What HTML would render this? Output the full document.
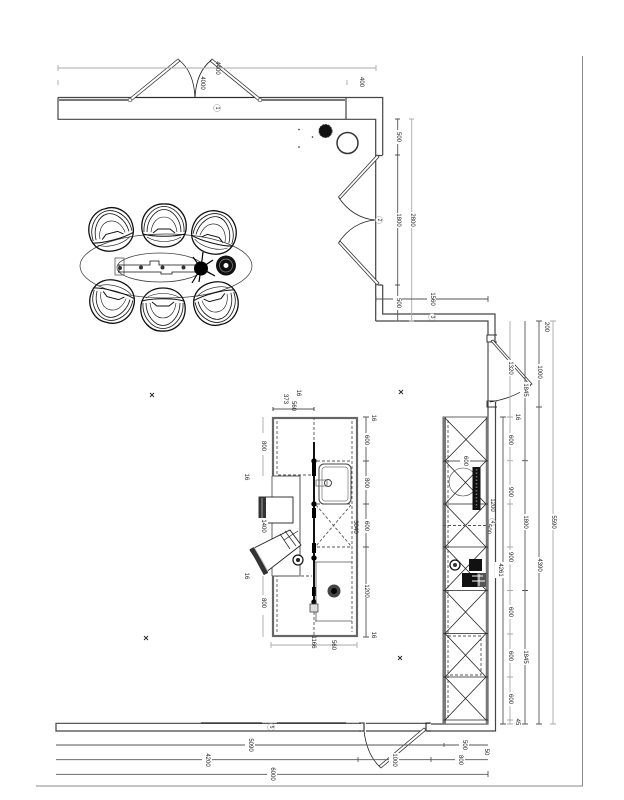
<!DOCTYPE html>
<html><head><meta charset="utf-8"><style>
html,body{margin:0;padding:0;background:#fff}
svg{display:block;filter:blur(.3px)}
text{font-family:"Liberation Sans",sans-serif;font-size:6px;fill:#222;text-anchor:middle;dominant-baseline:central}
.w{fill:none;stroke:#444;stroke-width:1.2}
.d{fill:none;stroke:#555;stroke-width:.9}
.l{fill:none;stroke:#aaa;stroke-width:.9}
.k{fill:none;stroke:#222;stroke-width:.8}
.g{fill:none;stroke:#777;stroke-width:3}
.da{fill:none;stroke:#555;stroke-width:.9;stroke-dasharray:3 2}
.lb{fill:#fff;stroke:#999;stroke-width:.5}
</style></head><body>
<svg width="624" height="800" viewBox="0 0 624 800" xmlns="http://www.w3.org/2000/svg">
<defs>
<g id="chair" fill="none" stroke="#111" stroke-width=".8">
<path stroke-width="1.300" d="M-22,4C-24,-14-10,-23 0,-22C12,-23 24,-12 22,4C20,16 10,21 0,21C-10,21-20,16-22,4Z"/>
<path d="M-20,6C-21,-9-10,-19.500 0,-19.500C10,-19.500 21,-9 20,6"/>
<path d="M-17,6C-17,-7-8,-16.500 0,-16.500C8,-16.500 17,-7 17,6"/>
<path d="M-13,6C-12,-3-7,-9 0,-9C7,-9 12,-3 13,6" stroke-width=".6"/>
<path d="M-21,8C-10,11 10,11 21,8" stroke-width="1"/>
<path d="M-11,7L-6,3L6,3L11,7" stroke-width="1"/>
<path d="M-17,11C-8,17 8,17 17,11" stroke-width=".6"/>
</g>
<g id="x" fill="none" stroke="#222" stroke-width=".9"><path d="M-2,-2L2,2M-2,2L2,-2"/></g>
</defs>

<!-- page border -->
<path d="M582.5,56V786H36" fill="none" stroke="#888" stroke-width="1"/>

<!-- top wall -->
<path class="w" d="M58,97.5H382.7V155M58,97.5V119.3H375.7V321M346,97.5V119.3"/>
<path fill="none" stroke="#777" stroke-width="2" d="M59,100H128M262,100H345"/>
<path class="k" d="M131,97.5H259"/>
<!-- door 1 -->
<path fill="#fff" stroke="#333" stroke-width=".8" d="M129,99L178,59L180,61L131,101ZM261,99L212,59L210,61L259,101Z"/>
<circle cx="130" cy="100" r="1.800" fill="#fff" stroke="#444" stroke-width=".7"/>
<circle cx="260" cy="100" r="1.800" fill="#fff" stroke="#444" stroke-width=".7"/>
<path class="k" d="M179,60Q194,72 195,98M211.500,60Q196,72 195,98"/>
<circle class="lb" cx="217" cy="108" r="3.500"/><text transform="translate(217,108) rotate(90)" style="font-size:5px">1</text>
<!-- top dims -->
<path class="l" d="M58,68H376M58,65V71M376,65V71M58,80V85M347,80V85"/>
<text transform="translate(361,82) rotate(90)">400</text>
<text transform="translate(202,83) rotate(90)">4000</text>
<text transform="translate(217,68) rotate(90)">4400</text>

<!-- right wall upper -->
<path class="w" d="M382.700,285V314H495V342M375.700,321H488V335"/>
<path class="w" d="M378,155.500H382.700M378,285H382.700"/>
<path fill="#fff" stroke="#333" stroke-width=".8" d="M377,155L338.500,197L340,199L379,157ZM377,285L338.500,243L340,241L379,283Z"/>
<path class="k" d="M339,198Q353,218 375,220M339,242Q353,222 375,220"/>
<circle class="lb" cx="379" cy="220" r="3.500"/><text transform="translate(379,220) rotate(90)" style="font-size:5px">2</text>
<circle class="lb" cx="432" cy="317" r="3.500"/><text transform="translate(432,317) rotate(90)" style="font-size:5px">3</text>
<path class="d" d="M397.700,119V321M395,119H400M395,155H400M395,285H400M395,321H400"/>
<path class="l" d="M411.700,119V321M409,119H414M409,321H414"/>
<path class="d" d="M376,299H488M488,296V302M376,296V302"/>
<g>
<rect x="393" y="130" width="9" height="14" fill="#fff"/><text transform="translate(398,137) rotate(90)">500</text>
<rect x="393" y="213" width="9" height="15" fill="#fff"/><text transform="translate(398,220) rotate(90)">1800</text>
<rect x="393" y="296" width="9" height="14" fill="#fff"/><text transform="translate(398,303) rotate(90)">500</text>
<rect x="407" y="212" width="9" height="16" fill="#fff"/><text transform="translate(412,220) rotate(90)">2800</text>
<rect x="427" y="293" width="9" height="14" fill="#fff"/><text transform="translate(432,299) rotate(90)">1560</text>
</g>

<!-- plant + circle -->
<circle cx="325.500" cy="131" r="6.500" fill="#111" stroke="#333" stroke-dasharray="2 1"/>
<circle cx="347.500" cy="143" r="10.500" fill="none" stroke="#333" stroke-width="1.500"/>
<circle cx="299" cy="129.500" r=".8" fill="#222"/><circle cx="299" cy="147" r=".8" fill="#222"/><circle cx="312.500" cy="137" r=".8" fill="#222"/>

<!-- dining -->
<ellipse cx="166" cy="266" rx="86" ry="32" fill="none" stroke="#333" stroke-width=".7"/>
<use href="#chair" transform="translate(111,230) rotate(-15)"/>
<use href="#chair" transform="translate(164,226)"/>
<use href="#chair" transform="translate(214,233) rotate(15)"/>
<use href="#chair" transform="translate(112,301) rotate(195)"/>
<use href="#chair" transform="translate(163,309) rotate(180)"/>
<use href="#chair" transform="translate(216,303) rotate(165)"/>
<ellipse cx="160" cy="267.500" rx="43" ry="14.500" fill="#fff" stroke="#333" stroke-width=".7"/>
<g fill="none" stroke="#111" stroke-width=".8">
<rect x="115" y="258" width="9" height="17" stroke="#555"/>
<path d="M118,265H150V261H159V265H195M118,272H161V274H172V272H195"/>
<path d="M119,265V272"/>
</g>
<g fill="#333"><circle cx="120" cy="268" r="2"/><circle cx="141" cy="267.500" r="2"/><circle cx="162.500" cy="267.500" r="2"/><circle cx="183.500" cy="267.500" r="2"/></g>
<circle cx="201" cy="268.500" r="7" fill="#000"/>
<path fill="none" stroke="#000" stroke-width="1.200" d="M201,268L193,257M201,268L203,252M201,268L213,260M201,268L215,276M201,268L199,282M201,268L192,283M201,268L211,274"/>
<circle cx="226" cy="265.500" r="10" fill="#111"/>
<circle cx="226" cy="265.500" r="6.500" fill="none" stroke="#888" stroke-width=".7"/>
<circle cx="226" cy="265.500" r="2.500" fill="#fff"/>

<!-- x marks -->
<use href="#x" transform="translate(152,395)"/><use href="#x" transform="translate(401,392)"/>
<use href="#x" transform="translate(146,638)"/><use href="#x" transform="translate(400,658)"/>

<!-- right wall lower -->
<path class="w" d="M488,342V724H431M495.500,402V731H427"/>
<path d="M497,335H487V342H497M497,401H487V407H497" fill="none" stroke="#333" stroke-width="1"/>
<path fill="#fff" stroke="#333" stroke-width=".8" d="M491,341L530,385L532,384L493,340Z"/>
<path class="k" d="M531,385Q515,398 490,402"/>
<path class="d" d="M488,342V402"/>
<circle class="lb" cx="492" cy="522" r="3.500"/><text transform="translate(492,522) rotate(90)" style="font-size:5px">4</text>

<!-- bottom wall -->
<path class="w" d="M361,723.300H56V731H361M366,731H425M430,723.300H366"/>
<path fill="none" stroke="#222" stroke-width="1.300" d="M201,723H262M277,723H346"/>
<path fill="none" stroke="#222" stroke-width="1.100" d="M359,723H364V731H359M431,723H426V731H431"/>
<path fill="#fff" stroke="#333" stroke-width=".8" d="M424,728L379,766L381,768L426,730Z"/>
<path class="k" d="M380,767Q367,755 364,731"/>
<circle class="lb" cx="271" cy="727" r="3.500"/><text transform="translate(271,727) rotate(90)" style="font-size:5px">5</text>

<!-- bottom dims -->
<path class="d" d="M56,745H488M444,743V747"/>
<path class="d" d="M56,759.700H488M358,757V762M431,757V762"/>
<path class="d" d="M56,774.300H488M488,771V777"/>
<path fill="none" stroke="#888" stroke-width="1" d="M36,786H582"/>
<rect x="245" y="738" width="10" height="14" fill="#fff"/><text transform="translate(250,745) rotate(90)">5090</text>
<rect x="202" y="753" width="10" height="14" fill="#fff"/><text transform="translate(207,760) rotate(90)">4200</text>
<rect x="267" y="767" width="10" height="14" fill="#fff"/><text transform="translate(272,774) rotate(90)">6000</text>
<rect x="389" y="753" width="10" height="14" fill="#fff"/><text transform="translate(394,760) rotate(90)">1000</text>
<rect x="459" y="738" width="10" height="14" fill="#fff"/><text transform="translate(464,745) rotate(90)">500</text>
<rect x="455" y="753" width="10" height="14" fill="#fff"/><text transform="translate(460,760) rotate(90)">800</text>
<text transform="translate(486,752) rotate(90)">50</text>

<!-- right dims -->
<path class="d" d="M503,417V724M500,417H506M500,724H506"/>
<path class="l" d="M510,321V724M507,460.700H513M507,504H513M507,547H513M507,590.500H513M507,634H513M507,677H513M507,720H513M507,724H513M507,417H513"/>
<path class="d" d="M525,321V724M522,460.700H528M522,590.500H528M522,724H528"/>
<path class="d" d="M539,321V724M536,321H542M536,407H542M536,724H542"/>
<path class="l" d="M553,321V724M550,321H556M550,724H556"/>
<g>
<rect x="505" y="360" width="10" height="16" fill="#fff"/><text transform="translate(510,368) rotate(90)">1320</text>
<rect x="520" y="382" width="10" height="16" fill="#fff"/><text transform="translate(525,390) rotate(90)">1845</text>
<text transform="translate(517,417) rotate(90)">16</text>
<rect x="505" y="433" width="10" height="14" fill="#fff"/><text transform="translate(510,440) rotate(90)">600</text>
<rect x="505" y="485" width="10" height="14" fill="#fff"/><text transform="translate(510,492) rotate(90)">900</text>
<rect x="505" y="550" width="10" height="14" fill="#fff"/><text transform="translate(510,557) rotate(90)">900</text>
<rect x="505" y="605" width="10" height="14" fill="#fff"/><text transform="translate(510,612) rotate(90)">600</text>
<rect x="505" y="649" width="10" height="14" fill="#fff"/><text transform="translate(510,656) rotate(90)">600</text>
<rect x="505" y="692" width="10" height="14" fill="#fff"/><text transform="translate(510,699) rotate(90)">600</text>
<text transform="translate(517,722) rotate(90)">45</text>
<rect x="520" y="514" width="10" height="16" fill="#fff"/><text transform="translate(525,522) rotate(90)">1800</text>
<rect x="520" y="649" width="10" height="16" fill="#fff"/><text transform="translate(525,657) rotate(90)">1845</text>
<rect x="534" y="364" width="10" height="16" fill="#fff"/><text transform="translate(539,372) rotate(90)">1000</text>
<rect x="534" y="557" width="10" height="16" fill="#fff"/><text transform="translate(539,565) rotate(90)">4390</text>
<text transform="translate(546,327) rotate(90)">200</text>
<rect x="548" y="514" width="10" height="16" fill="#fff"/><text transform="translate(553,522) rotate(90)">5590</text>
<rect x="495" y="562" width="10" height="16" fill="#fff"/><text transform="translate(500,570) rotate(90)">4261</text>
<text transform="translate(492,505) rotate(90)">1200</text>
<text transform="translate(488,529) rotate(90)">500</text>
</g>

<!-- kitchen wall run -->
<rect x="443" y="417" width="45" height="307" fill="#fff" stroke="#555" stroke-width=".9"/>
<path class="g" d="M444.500,417V724"/>
<path fill="none" stroke="#777" stroke-width="2.500" d="M487,417V724"/>
<path class="da" d="M448,420V720"/>
<path class="k" d="M445,418L487,461M487,418L445,461M445,461L486,504M486,461L445,504M445,504L486,547M486,504L445,547M445,547L486,590M486,547L445,590M445,590.500L486,633.500M486,590.500L445,633.500M445,633.500L486,677M486,633.500L445,677M445,677L486,720M486,677L445,720"/>
<path class="k" d="M443,461H488M443,504H488M443,547H488M443,590.500H488M443,633.500H488M443,677H488M443,720H488"/>
<path class="da" d="M448,636H481V675H448"/>
<path class="da" d="M443,525.500H488"/>
<circle cx="463" cy="482" r="14" fill="none" stroke="#444" stroke-width=".6"/>
<rect x="460" y="455" width="10" height="12" fill="#fff"/><text transform="translate(465,461) rotate(90)">600</text>
<rect x="472.500" y="467" width="8" height="43" fill="#111"/>
<path d="M476.500,469V508" stroke="#777" stroke-dasharray="1.500 2" stroke-width="1.500" fill="none"/>
<rect x="469" y="559" width="13" height="12" fill="#111"/>
<rect x="462" y="573" width="15" height="14" fill="#111"/>
<rect x="477" y="573" width="9" height="14" fill="#555"/>
<path d="M472,576H483M472,581H485M479,574V586" stroke="#fff" stroke-width="1" fill="none"/>
<circle cx="455" cy="565" r="5" fill="#fff" stroke="#111" stroke-width="1.300"/><circle cx="455" cy="565" r="2" fill="#333"/>

<!-- island -->
<rect x="273" y="418" width="84" height="218" fill="none" stroke="#666" stroke-width="2.200"/>
<rect x="270" y="476" width="5" height="100" fill="#fff"/>
<path class="da" d="M277,421V475H312M277,632V576H312M352,421V632M312,461H352M312,504H352M312,547H352"/>
<path class="da" d="M314,417V442M314,607V637"/>
<path class="da" d="M316,505L351,546M351,505L316,546"/>
<path d="M272,476H300V576H272" fill="none" stroke="#555" stroke-width="1"/>
<path class="d" d="M272,476V576"/>
<path d="M314,442V607" stroke="#111" stroke-width="2" fill="none"/>
<g fill="#000"><circle cx="314" cy="461" r="2.700"/><circle cx="314" cy="504" r="2.700"/><circle cx="314" cy="558" r="2.700"/><circle cx="314" cy="602" r="2.700"/>
<rect x="312" y="462" width="4" height="14"/><rect x="312" y="508" width="4" height="10"/><rect x="312" y="543" width="4" height="10"/><rect x="312" y="587" width="4" height="9"/></g>
<rect x="319" y="464" width="32" height="40" rx="5" fill="#fff" stroke="#444" stroke-width="1"/>
<rect x="322" y="467" width="26" height="34" rx="3" fill="none" stroke="#777" stroke-width=".7"/>
<circle cx="328" cy="483" r="3.500" fill="#fff" stroke="#444" stroke-width="1"/>
<path d="M316,480H327V486H316Z" fill="none" stroke="#666" stroke-width=".8"/>
<path d="M315,562H352M315,621H352M316,562V621" fill="none" stroke="#555" stroke-width=".8"/>
<circle cx="334" cy="591" r="6.500" fill="#444"/><circle cx="334" cy="591" r="3" fill="#000"/>
<rect x="310" y="604" width="8" height="8" fill="#ddd" stroke="#444" stroke-width=".8"/>
<!-- stools -->
<rect x="259" y="497" width="34" height="26" fill="#fff" stroke="#222" stroke-width=".9"/>
<rect x="259" y="497" width="7" height="26" fill="#333"/>
<path d="M262,498V522" stroke="#bbb" stroke-width=".8"/>
<rect x="258" y="518" width="10" height="17" fill="#fff"/><text transform="translate(263,526) rotate(90)">1400</text>
<path d="M250,550L290,530L301,545L265,573Z" fill="#fff" stroke="#222" stroke-width=".9"/>
<path d="M252,548L266,574" stroke="#333" stroke-width="5" fill="none"/>
<path d="M254,547L268,571" stroke="#bbb" stroke-width=".8" fill="none"/>
<path d="M280,534L290,549M285,531L296,546M284,540L298,531" stroke="#222" stroke-width=".7" fill="none"/>
<circle cx="298" cy="560" r="5" fill="#fff" stroke="#111" stroke-width="1.200"/><circle cx="298" cy="560" r="2" fill="#222"/>
<!-- island dims -->
<path class="k" d="M273,409H314M273,407V411M314,407V411"/>
<path class="l" d="M271,645H357M271,642V648M357,642V648"/>
<path class="d" d="M366,417V637M363,417H369M363,461H369M363,504H369M363,547H369M363,637H369"/>
<path class="l" d="M263,417V433M263,455V476M263,576V595M263,615V637"/>
<g>
<text transform="translate(285,399) rotate(90)">373</text>
<text transform="translate(293,406) rotate(90)">560</text>
<text transform="translate(298,393) rotate(90)">16</text>
<rect x="259" y="439" width="8" height="14" fill="#fff"/><text transform="translate(263,446) rotate(90)">800</text>
<rect x="259" y="596" width="8" height="14" fill="#fff"/><text transform="translate(263,603) rotate(90)">800</text>
<text transform="translate(246,477) rotate(90)">16</text>
<text transform="translate(246,576) rotate(90)">16</text>
<rect x="362" y="433" width="8" height="14" fill="#fff"/><text transform="translate(366,440) rotate(90)">600</text>
<rect x="362" y="476" width="8" height="14" fill="#fff"/><text transform="translate(366,483) rotate(90)">800</text>
<rect x="362" y="519" width="8" height="14" fill="#fff"/><text transform="translate(366,526) rotate(90)">600</text>
<rect x="362" y="584" width="8" height="14" fill="#fff"/><text transform="translate(366,591) rotate(90)">1200</text>
<text transform="translate(355,527) rotate(90)">3040</text>
<text transform="translate(373,418) rotate(90)">16</text>
<text transform="translate(373,635) rotate(90)">16</text>
<text transform="translate(313,642) rotate(90)">1166</text>
<text transform="translate(333,645) rotate(90)">560</text>
</g>
</svg>
</body></html>
